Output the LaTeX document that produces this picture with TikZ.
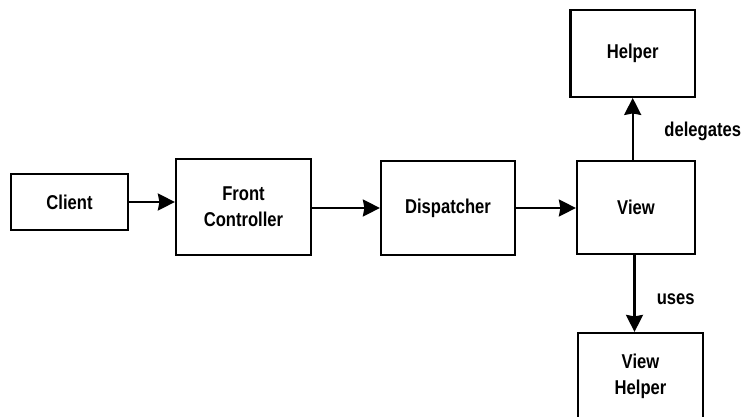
\documentclass[tikz,border=0pt]{standalone}
\usepackage{fontspec}
\newfontfamily\labfont{Liberation Sans}[FakeStretch=0.83]
\usetikzlibrary{arrows.meta}
\tikzset{
  box/.style={draw=black, line width=2.2pt, fill=white, inner sep=0pt, align=center,
    font=\labfont\bfseries\fontsize{20}{26}\selectfont},
  lbl/.style={inner sep=0pt, anchor=base, font=\labfont\bfseries\fontsize{20}{26}\selectfont},
  conn/.style={line width=2.2pt, -{Stealth[length=17pt,width=17pt,inset=1.5pt]}}
}
\begin{document}
\begin{tikzpicture}[x=1pt,y=-1pt]
\useasboundingbox (0,0) rectangle (744,417);
\node[box, minimum width=117pt, minimum height=56pt] (client) at (69.5,202) {Client};
\node[box, minimum width=135pt, minimum height=96pt] (fc) at (243.5,207) {Front\\Controller};
\node[box, minimum width=134pt, minimum height=94pt] (disp) at (448,208) {Dispatcher};
\node[box, minimum width=118pt, minimum height=93pt] (view) at (636,207.5) {View};
\node[box, minimum width=124.5pt, minimum height=86.7pt] (helper) at (632.7,53.5) {Helper};
\node[box, minimum width=125pt, minimum height=87pt] (vhelper) at (640.5,376.5) {View\\Helper};
\node[lbl] (deleg) at (702.7,136.7) {delegates};
\node[lbl] (uses) at (675.7,304) {uses};
\draw[conn] (client.east) -- (client.east -| fc.west);
\draw[conn] (disp.west -| fc.east) -- (disp.west);
\draw[conn] (disp.east) -- (disp.east -| view.west);
\draw[conn] (helper.south |- view.north) -- (helper.south);
\draw[conn] ([xshift=-1.5pt]view.south) -- ([xshift=-1.5pt]view.south |- vhelper.north);
\end{tikzpicture}
\end{document}
